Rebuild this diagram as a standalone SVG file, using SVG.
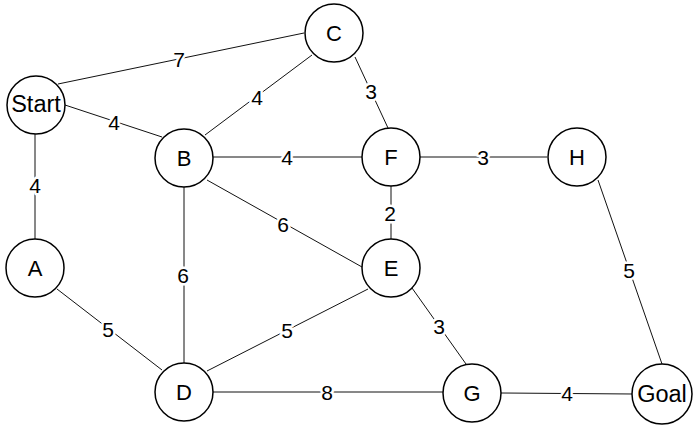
<svg xmlns="http://www.w3.org/2000/svg" width="700" height="430" viewBox="0 0 700 430">
<style>
.n circle{fill:#fff;stroke:#000;stroke-width:1.5}
text{font-family:"Liberation Sans",Arial,sans-serif;font-size:22px;fill:#000;text-anchor:middle;dominant-baseline:central}
.n text.w{font-size:23.5px}
.e line{stroke:#111;stroke-width:1}
.l text{font-size:21px;stroke:#fff;stroke-width:5;paint-order:stroke;stroke-linejoin:round}
</style>
<rect width="700" height="430" fill="#fff"/>
<g id="connectors" class="e">
<line x1="58" y1="84" x2="304" y2="33"/>
<line x1="312" y1="55" x2="205" y2="135"/>
<line x1="355" y1="57" x2="388" y2="128"/>
<line x1="65" y1="105" x2="162" y2="137"/>
<line x1="213" y1="157" x2="362" y2="157"/>
<line x1="420" y1="157" x2="547" y2="157"/>
<line x1="35" y1="134" x2="35" y2="239"/>
<line x1="207" y1="180" x2="362" y2="267"/>
<line x1="391" y1="186" x2="391" y2="239"/>
<line x1="184" y1="187" x2="184" y2="363"/>
<line x1="598" y1="180" x2="662" y2="364"/>
<line x1="57" y1="289" x2="162" y2="370"/>
<line x1="207" y1="371" x2="368" y2="289"/>
<line x1="412" y1="288" x2="466" y2="364"/>
<line x1="213" y1="392" x2="443" y2="392"/>
<line x1="501" y1="393" x2="633" y2="394"/>
</g>
<g id="labels" class="l">
<text x="179" y="59">7</text>
<text x="257" y="97">4</text>
<text x="371" y="91">3</text>
<text x="114" y="122">4</text>
<text x="287" y="157">4</text>
<text x="483" y="157">3</text>
<text x="35" y="185">4</text>
<text x="283" y="224">6</text>
<text x="390" y="213">2</text>
<text x="183" y="275">6</text>
<text x="629" y="270">5</text>
<text x="108" y="329">5</text>
<text x="287" y="330">5</text>
<text x="439" y="326">3</text>
<text x="327" y="392">8</text>
<text x="567" y="393">4</text>
</g>
<g id="Start" class="n"><circle cx="36" cy="105" r="29"/><text class="w" x="36" y="104">Start</text></g>
<g id="C" class="n"><circle cx="334" cy="33" r="29"/><text x="334" y="33">C</text></g>
<g id="B" class="n"><circle cx="184" cy="158" r="29"/><text x="184" y="158">B</text></g>
<g id="F" class="n"><circle cx="391" cy="157" r="29"/><text x="391" y="157">F</text></g>
<g id="H" class="n"><circle cx="577" cy="157" r="29"/><text x="577" y="157">H</text></g>
<g id="A" class="n"><circle cx="35" cy="268" r="29"/><text x="35" y="268">A</text></g>
<g id="E" class="n"><circle cx="391" cy="268" r="29"/><text x="391" y="268">E</text></g>
<g id="D" class="n"><circle cx="184" cy="392" r="29"/><text x="184" y="392">D</text></g>
<g id="G" class="n"><circle cx="472" cy="393" r="29"/><text x="472" y="393">G</text></g>
<g id="Goal" class="n"><circle cx="662" cy="394" r="30"/><text class="w" x="662" y="394">Goal</text></g>
</svg>
